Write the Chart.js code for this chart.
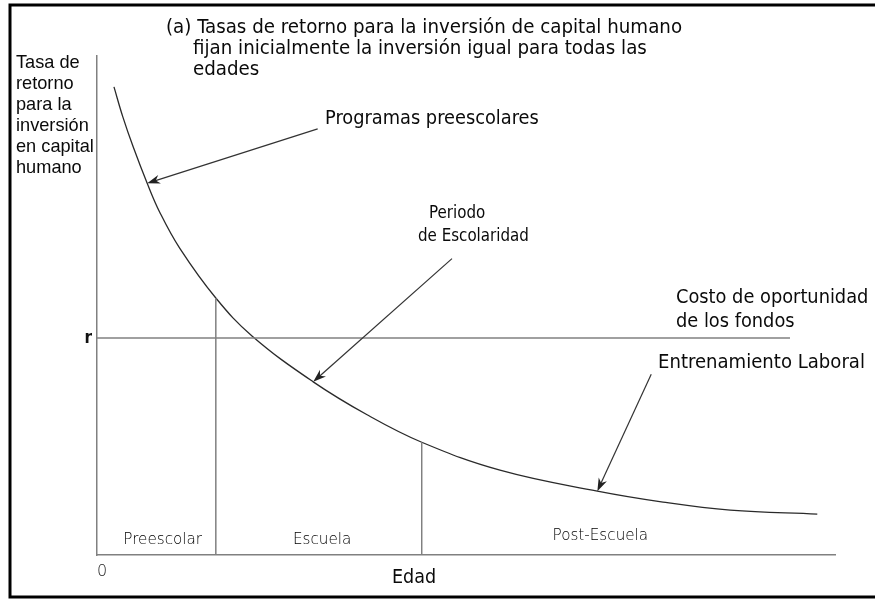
<!DOCTYPE html>
<html>
<head>
<meta charset="utf-8">
<script src="https://cdn.jsdelivr.net/npm/chart.js@4/dist/chart.umd.min.js"></script>
<style>
  html, body { margin: 0; padding: 0; background: #fff; overflow: hidden; }
  #wrap { width: 875px; height: 599px; }
</style>
</head>
<body>
<div id="wrap"><canvas id="chart" width="875" height="599"></canvas></div>
<script>
// rate of return curve (age on x, return on y, both in arbitrary units 0-100)
const curveX = [2.3, 3.5, 4.9, 6.8, 8.5, 11.2, 16.1, 21.0, 29.3, 36.6, 44.0, 54.6, 67.8, 76.7, 85.8, 97.6];
const curveY = [93.8, 87.8, 81.8, 74.5, 68.7, 61.5, 51.5, 43.9, 34.7, 28.1, 22.6, 17.0, 12.8, 10.6, 9.0, 8.2];

// opportunity cost of funds
const rValue = 43.5;
const rLineEnd = 93.9;

// stage boundaries (vertical lines go up to the curve)
const stageBounds = [16.1, 44.0];
const stageTops = [51.5, 22.6];
const stageNames = ['Preescolar', 'Escuela', 'Post-Escuela'];
const stageLabelX = [8.9, 30.5, 68.2];

// arrows: [fromX, fromY, toX, toY]
const arrows = [
  [29.9, 85.4, 6.8, 74.5],
  [48.1, 59.4, 29.3, 34.7],
  [75.1, 36.2, 67.8, 12.8]
];

const SANS = '"DejaVu Sans Condensed", "DejaVu Sans", Verdana, sans-serif';
const THIN = '"DejaVu Sans", Verdana, sans-serif';
const ARIAL = '"Liberation Sans", Arial, sans-serif';

function fitFont(ctx, text, width, family, weight) {
  ctx.font = weight + ' 100px ' + family;
  const size = 100 * width / ctx.measureText(text).width;
  return weight + ' ' + size.toFixed(1) + 'px ' + family;
}

function text(ctx, str, x, y, font, color, align) {
  ctx.font = font;
  ctx.fillStyle = color || '#0a0a0a';
  ctx.textAlign = align || 'left';
  ctx.textBaseline = 'alphabetic';
  ctx.fillText(str, x, y);
}

function arrow(ctx, x1, y1, x2, y2) {
  const ang = Math.atan2(y2 - y1, x2 - x1);
  const len = 13, wid = 4.5;
  ctx.strokeStyle = '#333';
  ctx.lineWidth = 1.2;
  ctx.beginPath();
  ctx.moveTo(x1, y1);
  ctx.lineTo(x2 - Math.cos(ang) * 8, y2 - Math.sin(ang) * 8);
  ctx.stroke();
  ctx.save();
  ctx.translate(x2, y2);
  ctx.rotate(ang);
  ctx.fillStyle = '#222';
  ctx.beginPath();
  ctx.moveTo(0, 0);
  ctx.lineTo(-len, -wid);
  ctx.lineTo(-len + 4, 0);
  ctx.lineTo(-len, wid);
  ctx.closePath();
  ctx.fill();
  ctx.restore();
}

const frame = {
  id: 'frame',
  beforeDraw(chart) {
    const ctx = chart.ctx;
    ctx.save();
    ctx.fillStyle = '#fff';
    ctx.fillRect(0, 0, chart.width, chart.height);
    ctx.strokeStyle = '#000';
    ctx.lineWidth = 3;
    ctx.strokeRect(10, 5, 900, 592);
    ctx.restore();
  }
};

const notes = {
  id: 'notes',
  afterDraw(chart) {
    const ctx = chart.ctx;
    const xs = chart.scales.x, ys = chart.scales.y;
    ctx.save();

    // title
    const tFont = fitFont(ctx, '(a) Tasas de retorno para la inversión de capital humano', 517, SANS, 'normal');
    text(ctx, '(a) Tasas de retorno para la inversión de capital humano', 166, 33, tFont);
    text(ctx, 'fijan inicialmente la inversión igual para todas las', 193, 54, tFont);
    text(ctx, 'edades', 193, 75, tFont);

    // y axis label
    const yl = ['Tasa de', 'retorno', 'para la', 'inversión', 'en capital', 'humano'];
    const ylFont = fitFont(ctx, 'en capital', 78, ARIAL, 'normal');
    yl.forEach((s, i) => text(ctx, s, 16, 68 + i * 21, ylFont));

    // callouts
    text(ctx, 'Programas preescolares', 325, 124, fitFont(ctx, 'Programas preescolares', 214, SANS, 'normal'));
    const cFont = fitFont(ctx, 'Costo de oportunidad', 193, SANS, 'normal');
    text(ctx, 'Costo de oportunidad', 676, 303, cFont);
    text(ctx, 'de los fondos', 676, 327, cFont);
    text(ctx, 'Entrenamiento Laboral', 658, 368, fitFont(ctx, 'Entrenamiento Laboral', 207, SANS, 'normal'));
    const pFont = fitFont(ctx, 'de Escolaridad', 111, SANS, 'normal');
    text(ctx, 'Periodo', 429, 218, pFont);
    text(ctx, 'de Escolaridad', 418, 241, pFont);

    // axis labels
    text(ctx, 'r', xs.left - 5, ys.getPixelForValue(rValue) + 5, 'bold 17px ' + SANS, '#111', 'right');
    text(ctx, '0', xs.getPixelForValue(0), ys.bottom + 21, '200 16px ' + THIN, '#222');
    text(ctx, 'Edad', 392, 583, fitFont(ctx, 'Edad', 44, SANS, 'normal'));

    // stage names
    const sFont = fitFont(ctx, 'Post-Escuela', 96, THIN, '200');
    stageNames.forEach((s, i) => {
      text(ctx, s, xs.getPixelForValue(stageLabelX[i]), ys.bottom - (i === 2 ? 15 : 11), sFont, '#000', 'center');
    });

    // arrows
    arrows.forEach(a => arrow(ctx,
      xs.getPixelForValue(a[0]), ys.getPixelForValue(a[1]),
      xs.getPixelForValue(a[2]), ys.getPixelForValue(a[3])));

    ctx.restore();
  }
};

const grayLine = { showLine: true, pointRadius: 0, borderColor: '#808080', borderWidth: 1.5, fill: false };

const datasets = [
  Object.assign({
    label: 'Costo de oportunidad',
    data: [{ x: 0, y: rValue }, { x: rLineEnd, y: rValue }]
  }, grayLine)
];
stageBounds.forEach((b, i) => {
  datasets.push(Object.assign({
    label: stageNames[i],
    data: [{ x: b, y: 0 }, { x: b, y: stageTops[i] }]
  }, grayLine));
});
datasets.push({
  label: 'Tasa de retorno',
  data: curveX.map((x, i) => ({ x: x, y: curveY[i] })),
  showLine: true,
  pointRadius: 0,
  borderColor: '#2a2a2a',
  borderWidth: 1.3,
  tension: 0.4,
  fill: false
});

new Chart(document.getElementById('chart'), {
  type: 'scatter',
  data: { datasets: datasets },
  options: {
    responsive: false,
    animation: false,
    events: [],
    layout: { padding: { left: 97, right: 40, top: 56, bottom: 44 } },
    plugins: { legend: { display: false }, tooltip: { enabled: false } },
    scales: {
      x: {
        type: 'linear', min: 0, max: 100,
        grid: { display: false },
        border: { display: true, color: '#808080', width: 1.5 },
        ticks: { display: false },
        afterFit(scale) { scale.height = 0; }
      },
      y: {
        type: 'linear', min: 0, max: 100,
        grid: { display: false },
        border: { display: true, color: '#808080', width: 1.5 },
        ticks: { display: false },
        afterFit(scale) { scale.width = 0; }
      }
    }
  },
  plugins: [frame, notes]
});
</script>
</body>
</html>
